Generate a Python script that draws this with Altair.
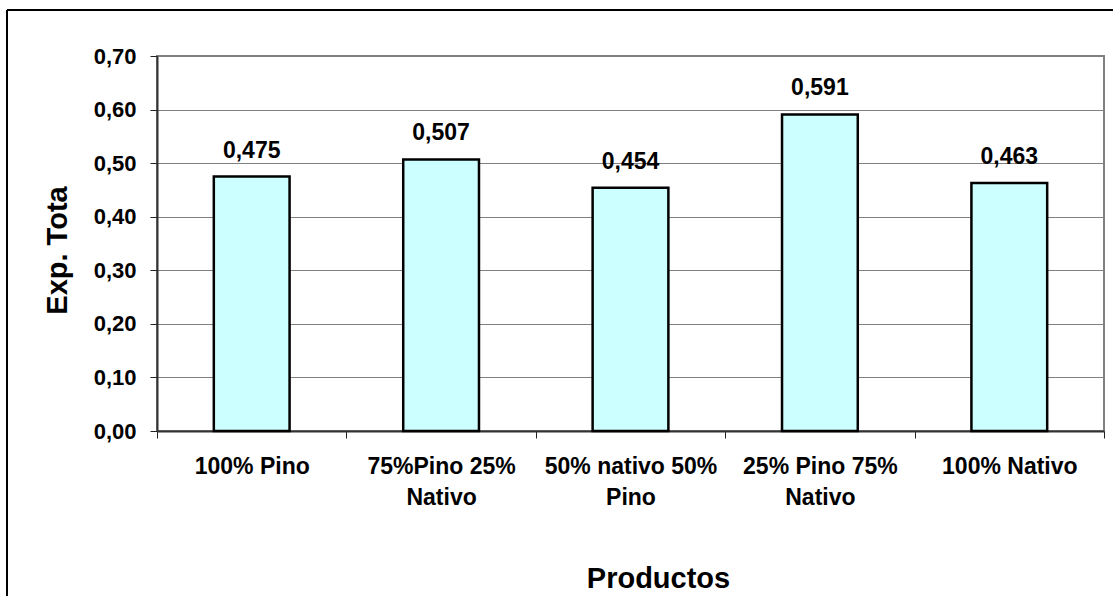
import altair as alt
import pandas as pd

# Product mixes and their total expansion values
categories = [
    "100% Pino",
    "75%Pino 25%\nNativo",
    "50% nativo 50%\nPino",
    "25% Pino 75%\nNativo",
    "100% Nativo",
]
exp_total = [0.475, 0.507, 0.454, 0.591, 0.463]
y_ticks = [0.0, 0.1, 0.2, 0.3, 0.4, 0.5, 0.6, 0.7]

df = pd.DataFrame({"producto": categories, "exp": exp_total})

FONT = "Liberation Sans"
PLOT_W, PLOT_H = 947, 375
PAD = {"left": 157, "top": 56, "right": 9, "bottom": 165}

x_enc = alt.X(
    "producto:N",
    sort=categories,
    scale=alt.Scale(paddingInner=0, paddingOuter=0),
    axis=alt.Axis(
        title="Productos",
        labelExpr="split(datum.label, '\\n')",
        labelAngle=0,
        labelFont=FONT,
        labelFontSize=23,
        labelFontWeight="bold",
        labelColor="black",
        labelLineHeight=31,
        labelPadding=17,
        labelBaseline="top",
        tickBand="extent",
        tickSize=7,
        tickColor="#222222",
        tickWidth=1,
        domainColor="#333333",
        domainWidth=2,
        titleFont=FONT,
        titleFontSize=29,
        titleFontWeight="bold",
        titleColor="black",
        titleX=501,
        titleY=147,
        titleAlign="center",
        titleBaseline="middle",
    ),
)

y_enc = alt.Y(
    "exp:Q",
    scale=alt.Scale(domain=[0, 0.7], nice=False),
    axis=alt.Axis(
        title="Exp. Tota",
        values=y_ticks,
        labelExpr="replace(format(datum.value, '.2f'), '.', ',')",
        labelFont=FONT,
        labelFontSize=22,
        labelFontWeight="bold",
        labelColor="black",
        labelPadding=14,
        tickSize=7,
        tickColor="#222222",
        tickWidth=1,
        domainColor="#333333",
        domainWidth=2,
        grid=True,
        gridColor="#808080",
        gridWidth=1,
        titleFont=FONT,
        titleFontSize=29,
        titleFontWeight="bold",
        titleColor="black",
        titleAngle=270,
        titleX=-100,
        titleY=194,
        titleAlign="center",
        titleBaseline="middle",
    ),
)

bars = alt.Chart(df).mark_bar(
    fill="#CCFFFF",
    stroke="black",
    strokeWidth=2.5,
    width=alt.RelativeBandSize(0.40),
).encode(x=x_enc, y=y_enc)

labels = alt.Chart(df).transform_calculate(
    label="replace(format(datum.exp, '.3f'), '.', ',')"
).mark_text(
    font=FONT,
    fontSize=23,
    fontWeight="bold",
    color="black",
    baseline="alphabetic",
    dy=-19,
).encode(x=alt.X("producto:N", sort=categories), y="exp:Q", text="label:N")

# Outer frame around the chart area
frame_df = pd.DataFrame({"k": [0]})
frame_left = alt.Chart(frame_df).mark_rule(color="black", strokeWidth=2).encode(
    x=alt.value(-150), y=alt.value(-46), y2=alt.value(560)
)
frame_top = alt.Chart(frame_df).mark_rule(color="black", strokeWidth=2).encode(
    x=alt.value(-150), x2=alt.value(980), y=alt.value(-46)
)

chart = (
    alt.layer(bars, labels, frame_left, frame_top)
    .properties(
        width=PLOT_W,
        height=PLOT_H,
        autosize=alt.AutoSizeParams(type="none"),
        padding=PAD,
        background="white",
    )
    .configure_view(stroke="#808080", strokeWidth=2)
)

chart.save("out.html", embed_options={"renderer": "svg", "actions": False})
